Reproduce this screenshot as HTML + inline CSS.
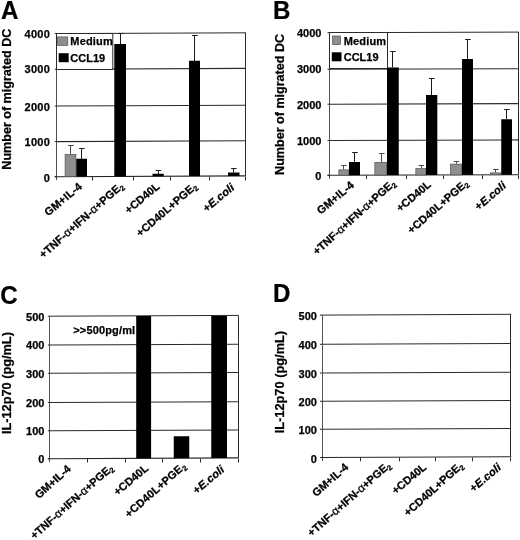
<!DOCTYPE html>
<html lang="en"><head><meta charset="utf-8"><title>Figure</title>
<style>
html,body{margin:0;padding:0;background:#fff;}
body{width:520px;height:540px;overflow:hidden;}
svg{display:block;}
svg text{font-family:"Liberation Sans", Arial, Helvetica, sans-serif;font-weight:bold;fill:#000;stroke:#000;stroke-width:0.25px;}
</style></head><body>
<svg width="520" height="540" viewBox="0 0 520 540">
<rect x="0" y="0" width="520" height="540" fill="#fff"/>
<text transform="translate(1.1 18.6) scale(0.925 1)" font-size="26.1">A</text>
<line x1="56.70" y1="141.60" x2="245.50" y2="140.80" stroke="#2b2b2b" stroke-width="1.1"/>
<line x1="56.70" y1="106.00" x2="245.50" y2="105.20" stroke="#2b2b2b" stroke-width="1.1"/>
<line x1="56.70" y1="69.20" x2="245.50" y2="68.40" stroke="#2b2b2b" stroke-width="1.1"/>
<line x1="56.70" y1="33.60" x2="246.00" y2="32.80" stroke="#2b2b2b" stroke-width="1"/>
<line x1="245.50" y1="32.80" x2="245.50" y2="175.90" stroke="#2b2b2b" stroke-width="1"/>
<line x1="56.50" y1="33.60" x2="56.50" y2="180.20" stroke="#505050" stroke-width="1"/>
<line x1="54.70" y1="176.70" x2="246.00" y2="175.90" stroke="#262626" stroke-width="1.1"/>
<line x1="54.70" y1="176.70" x2="56.70" y2="176.70" stroke="#2b2b2b" stroke-width="1"/>
<text x="50.1" y="181.5" font-size="11" text-anchor="end" letter-spacing="0.25">0</text>
<line x1="54.70" y1="141.60" x2="56.70" y2="141.60" stroke="#2b2b2b" stroke-width="1"/>
<text x="50.1" y="146.4" font-size="11" text-anchor="end" letter-spacing="0.25">1000</text>
<line x1="54.70" y1="106.00" x2="56.70" y2="106.00" stroke="#2b2b2b" stroke-width="1"/>
<text x="50.1" y="110.8" font-size="11" text-anchor="end" letter-spacing="0.25">2000</text>
<line x1="54.70" y1="69.20" x2="56.70" y2="69.20" stroke="#2b2b2b" stroke-width="1"/>
<text x="50.1" y="73.4" font-size="11" text-anchor="end" letter-spacing="0.25">3000</text>
<line x1="54.70" y1="33.60" x2="56.70" y2="33.60" stroke="#2b2b2b" stroke-width="1"/>
<text x="50.1" y="38.4" font-size="11" text-anchor="end" letter-spacing="0.25">4000</text>
<line x1="92.50" y1="176.70" x2="92.50" y2="180.50" stroke="#2b2b2b" stroke-width="1"/>
<line x1="133.50" y1="176.70" x2="133.50" y2="180.50" stroke="#2b2b2b" stroke-width="1"/>
<line x1="170.50" y1="176.70" x2="170.50" y2="180.50" stroke="#2b2b2b" stroke-width="1"/>
<line x1="209.50" y1="176.70" x2="209.50" y2="180.50" stroke="#2b2b2b" stroke-width="1"/>
<line x1="245.50" y1="176.70" x2="245.50" y2="180.50" stroke="#2b2b2b" stroke-width="1"/>
<text x="10.9" y="99.2" font-size="13.7" text-anchor="middle" textLength="141" lengthAdjust="spacingAndGlyphs" transform="rotate(-90 10.9 99.2)">Number of migrated DC</text>
<rect x="56.50" y="33.50" width="56.30" height="36.00" fill="#fff" stroke="#2b2b2b" stroke-width="1"/>
<rect x="57.50" y="36.90" width="10.30" height="8.60" fill="#8e8e8e" stroke="#555" stroke-width="0.7"/>
<rect x="58.70" y="53.20" width="10.00" height="9.00" fill="#000"/>
<text x="70.3" y="45.4" font-size="11" text-anchor="start" letter-spacing="0.18">Medium</text>
<text x="70.3" y="62.2" font-size="11" text-anchor="start">CCL19</text>
<rect x="65.10" y="154.35" width="10.80" height="22.29" fill="#8e8e8e" stroke="#555" stroke-width="0.7"/>
<rect x="76.25" y="158.75" width="10.75" height="17.84" fill="#000"/>
<rect x="114.30" y="44.00" width="11.70" height="132.43" fill="#000"/>
<rect x="152.50" y="173.75" width="11.25" height="2.52" fill="#000"/>
<rect x="189.00" y="60.75" width="11.00" height="115.37" fill="#000"/>
<rect x="228.00" y="172.50" width="11.50" height="3.45" fill="#000"/>
<line x1="70.50" y1="145.50" x2="70.50" y2="154.00" stroke="#4a4a4a" stroke-width="1"/>
<line x1="68.10" y1="145.50" x2="73.70" y2="145.50" stroke="#4a4a4a" stroke-width="1"/>
<line x1="81.50" y1="148.00" x2="81.50" y2="159.00" stroke="#1c1c1c" stroke-width="1"/>
<line x1="79.10" y1="148.50" x2="84.70" y2="148.50" stroke="#1c1c1c" stroke-width="1"/>
<line x1="120.50" y1="33.00" x2="120.50" y2="44.00" stroke="#1c1c1c" stroke-width="1"/>
<line x1="118.10" y1="33.50" x2="123.70" y2="33.50" stroke="#1c1c1c" stroke-width="1"/>
<line x1="158.50" y1="170.00" x2="158.50" y2="174.00" stroke="#1c1c1c" stroke-width="1"/>
<line x1="155.60" y1="170.50" x2="161.20" y2="170.50" stroke="#1c1c1c" stroke-width="1"/>
<line x1="194.50" y1="35.50" x2="194.50" y2="61.00" stroke="#1c1c1c" stroke-width="1"/>
<line x1="192.10" y1="35.50" x2="197.70" y2="35.50" stroke="#1c1c1c" stroke-width="1"/>
<line x1="233.50" y1="168.00" x2="233.50" y2="172.50" stroke="#1c1c1c" stroke-width="1"/>
<line x1="231.10" y1="168.50" x2="236.70" y2="168.50" stroke="#1c1c1c" stroke-width="1"/>
<text x="82.75" y="187.6" font-size="11" text-anchor="end" letter-spacing="0.2" style="stroke-width:0.3px" transform="rotate(-40 82.75 187.6)">GM+IL-4</text>
<text x="124.25" y="187.1" font-size="11" text-anchor="end" letter-spacing="0.1" style="stroke-width:0.3px" transform="rotate(-41.5 124.25 187.1)">+TNF-<tspan font-weight="normal" font-size="11.5">α</tspan>+IFN-<tspan font-weight="normal" font-size="11.5">α</tspan>+PGE<tspan font-size="7.5" dy="2.2">2</tspan></text>
<text x="160.38" y="187.6" font-size="11" text-anchor="end" style="stroke-width:0.3px" transform="rotate(-40 160.38 187.6)">+CD40L</text>
<text x="197.88" y="187.35" font-size="11" text-anchor="end" letter-spacing="0.1" style="stroke-width:0.3px" transform="rotate(-41 197.88 187.35)">+CD40L+PGE<tspan font-size="7.5" dy="2.2">2</tspan></text>
<text x="235.25" y="188.6" font-size="11" text-anchor="end" letter-spacing="0.2" style="stroke-width:0.3px" transform="rotate(-40 235.25 188.6)">+<tspan font-style="italic">E.coli</tspan></text>
<text transform="translate(272.9 19.1) scale(0.925 1)" font-size="26.1">B</text>
<line x1="329.50" y1="140.50" x2="518.20" y2="139.90" stroke="#2b2b2b" stroke-width="1.1"/>
<line x1="329.50" y1="104.20" x2="518.20" y2="103.60" stroke="#2b2b2b" stroke-width="1.1"/>
<line x1="329.50" y1="69.30" x2="518.20" y2="68.70" stroke="#2b2b2b" stroke-width="1.1"/>
<line x1="329.50" y1="32.70" x2="518.70" y2="32.10" stroke="#2b2b2b" stroke-width="1"/>
<line x1="518.50" y1="32.10" x2="518.50" y2="174.70" stroke="#2b2b2b" stroke-width="1"/>
<line x1="329.50" y1="32.70" x2="329.50" y2="178.80" stroke="#505050" stroke-width="1"/>
<line x1="327.50" y1="175.30" x2="518.70" y2="174.70" stroke="#262626" stroke-width="1.1"/>
<line x1="327.50" y1="175.30" x2="329.50" y2="175.30" stroke="#2b2b2b" stroke-width="1"/>
<text x="321.4" y="179.9" font-size="11" text-anchor="end">0</text>
<line x1="327.50" y1="140.50" x2="329.50" y2="140.50" stroke="#2b2b2b" stroke-width="1"/>
<text x="321.4" y="144.5" font-size="11" text-anchor="end">1000</text>
<line x1="327.50" y1="104.20" x2="329.50" y2="104.20" stroke="#2b2b2b" stroke-width="1"/>
<text x="321.4" y="109.3" font-size="11" text-anchor="end">2000</text>
<line x1="327.50" y1="69.30" x2="329.50" y2="69.30" stroke="#2b2b2b" stroke-width="1"/>
<text x="321.4" y="73.0" font-size="11" text-anchor="end">3000</text>
<line x1="327.50" y1="32.70" x2="329.50" y2="32.70" stroke="#2b2b2b" stroke-width="1"/>
<text x="321.4" y="37.2" font-size="11" text-anchor="end">4000</text>
<line x1="366.50" y1="175.30" x2="366.50" y2="179.10" stroke="#2b2b2b" stroke-width="1"/>
<line x1="406.50" y1="175.30" x2="406.50" y2="179.10" stroke="#2b2b2b" stroke-width="1"/>
<line x1="443.50" y1="175.30" x2="443.50" y2="179.10" stroke="#2b2b2b" stroke-width="1"/>
<line x1="482.50" y1="175.30" x2="482.50" y2="179.10" stroke="#2b2b2b" stroke-width="1"/>
<line x1="518.50" y1="175.30" x2="518.50" y2="179.10" stroke="#2b2b2b" stroke-width="1"/>
<text x="284.4" y="104.4" font-size="13.7" text-anchor="middle" textLength="141" lengthAdjust="spacingAndGlyphs" transform="rotate(-90 284.4 104.4)">Number of migrated DC</text>
<rect x="329.50" y="32.50" width="58.00" height="36.00" fill="#fff" stroke="#2b2b2b" stroke-width="1"/>
<rect x="332.60" y="36.00" width="8.00" height="8.60" fill="#8e8e8e" stroke="#555" stroke-width="0.7"/>
<rect x="331.80" y="52.30" width="9.70" height="9.00" fill="#000"/>
<text x="343.7" y="44.5" font-size="11" text-anchor="start" letter-spacing="0.18">Medium</text>
<text x="343.7" y="61.3" font-size="11" text-anchor="start">CCL19</text>
<rect x="338.85" y="169.85" width="9.80" height="5.40" fill="#8e8e8e" stroke="#555" stroke-width="0.7"/>
<rect x="349.00" y="162.00" width="11.00" height="13.22" fill="#000"/>
<rect x="374.85" y="162.35" width="11.80" height="12.79" fill="#8e8e8e" stroke="#555" stroke-width="0.7"/>
<rect x="387.00" y="67.50" width="11.75" height="107.60" fill="#000"/>
<rect x="415.85" y="168.60" width="10.05" height="6.41" fill="#8e8e8e" stroke="#555" stroke-width="0.7"/>
<rect x="426.00" y="95.00" width="11.30" height="79.98" fill="#000"/>
<rect x="450.35" y="164.10" width="11.30" height="10.80" fill="#8e8e8e" stroke="#555" stroke-width="0.7"/>
<rect x="462.00" y="59.00" width="11.00" height="115.86" fill="#000"/>
<rect x="490.35" y="172.85" width="10.55" height="1.92" fill="#8e8e8e" stroke="#555" stroke-width="0.7"/>
<rect x="501.25" y="119.25" width="10.75" height="55.49" fill="#000"/>
<line x1="343.50" y1="165.50" x2="343.50" y2="169.50" stroke="#4a4a4a" stroke-width="1"/>
<line x1="341.10" y1="165.50" x2="346.70" y2="165.50" stroke="#4a4a4a" stroke-width="1"/>
<line x1="354.50" y1="152.50" x2="354.50" y2="162.00" stroke="#1c1c1c" stroke-width="1"/>
<line x1="352.10" y1="152.50" x2="357.70" y2="152.50" stroke="#1c1c1c" stroke-width="1"/>
<line x1="381.50" y1="153.00" x2="381.50" y2="162.00" stroke="#4a4a4a" stroke-width="1"/>
<line x1="378.90" y1="153.50" x2="384.50" y2="153.50" stroke="#4a4a4a" stroke-width="1"/>
<line x1="392.50" y1="51.75" x2="392.50" y2="67.50" stroke="#1c1c1c" stroke-width="1"/>
<line x1="390.10" y1="51.50" x2="395.70" y2="51.50" stroke="#1c1c1c" stroke-width="1"/>
<line x1="421.50" y1="165.00" x2="421.50" y2="168.25" stroke="#4a4a4a" stroke-width="1"/>
<line x1="418.60" y1="165.50" x2="424.20" y2="165.50" stroke="#4a4a4a" stroke-width="1"/>
<line x1="431.50" y1="78.75" x2="431.50" y2="95.00" stroke="#1c1c1c" stroke-width="1"/>
<line x1="429.10" y1="78.50" x2="434.70" y2="78.50" stroke="#1c1c1c" stroke-width="1"/>
<line x1="456.50" y1="161.25" x2="456.50" y2="163.75" stroke="#4a4a4a" stroke-width="1"/>
<line x1="453.60" y1="161.50" x2="459.20" y2="161.50" stroke="#4a4a4a" stroke-width="1"/>
<line x1="467.50" y1="39.25" x2="467.50" y2="59.00" stroke="#1c1c1c" stroke-width="1"/>
<line x1="465.10" y1="39.50" x2="470.70" y2="39.50" stroke="#1c1c1c" stroke-width="1"/>
<line x1="495.50" y1="169.25" x2="495.50" y2="172.50" stroke="#4a4a4a" stroke-width="1"/>
<line x1="493.10" y1="169.50" x2="498.70" y2="169.50" stroke="#4a4a4a" stroke-width="1"/>
<line x1="506.50" y1="109.25" x2="506.50" y2="119.25" stroke="#1c1c1c" stroke-width="1"/>
<line x1="504.10" y1="109.50" x2="509.70" y2="109.50" stroke="#1c1c1c" stroke-width="1"/>
<text x="354.82" y="186.25" font-size="11" text-anchor="end" letter-spacing="0.1" style="stroke-width:0.3px" transform="rotate(-40 354.82 186.25)">GM+IL-4</text>
<text x="396.12" y="184.25" font-size="11" text-anchor="end" style="stroke-width:0.3px" transform="rotate(-42 396.12 184.25)">+TNF-<tspan font-weight="normal" font-size="11.5">α</tspan>+IFN-<tspan font-weight="normal" font-size="11.5">α</tspan>+PGE<tspan font-size="7.5" dy="2.2">2</tspan></text>
<text x="431.75" y="185.75" font-size="11" text-anchor="end" style="stroke-width:0.3px" transform="rotate(-40 431.75 185.75)">+CD40L</text>
<text x="469.12" y="184.25" font-size="11" text-anchor="end" letter-spacing="0.1" style="stroke-width:0.3px" transform="rotate(-41 469.12 184.25)">+CD40L+PGE<tspan font-size="7.5" dy="2.2">2</tspan></text>
<text x="507.1" y="186.75" font-size="11" text-anchor="end" letter-spacing="0.2" style="stroke-width:0.3px" transform="rotate(-40 507.1 186.75)">+<tspan font-style="italic">E.coli</tspan></text>
<text transform="translate(0.3 303.6) scale(0.925 1)" font-size="26.1">C</text>
<line x1="49.90" y1="430.80" x2="238.00" y2="430.00" stroke="#2b2b2b" stroke-width="1.1"/>
<line x1="49.90" y1="402.50" x2="238.00" y2="401.70" stroke="#2b2b2b" stroke-width="1.1"/>
<line x1="49.90" y1="373.30" x2="238.00" y2="372.50" stroke="#2b2b2b" stroke-width="1.1"/>
<line x1="49.90" y1="345.00" x2="238.00" y2="344.20" stroke="#2b2b2b" stroke-width="1.1"/>
<line x1="49.90" y1="316.20" x2="238.50" y2="315.40" stroke="#2b2b2b" stroke-width="1"/>
<line x1="238.50" y1="315.40" x2="238.50" y2="457.90" stroke="#2b2b2b" stroke-width="1"/>
<line x1="49.50" y1="316.20" x2="49.50" y2="462.20" stroke="#505050" stroke-width="1"/>
<line x1="47.90" y1="458.70" x2="238.50" y2="457.90" stroke="#262626" stroke-width="1.1"/>
<line x1="47.90" y1="458.70" x2="49.90" y2="458.70" stroke="#2b2b2b" stroke-width="1"/>
<text x="44.4" y="463.4" font-size="11" text-anchor="end">0</text>
<line x1="47.90" y1="430.80" x2="49.90" y2="430.80" stroke="#2b2b2b" stroke-width="1"/>
<text x="44.4" y="434.6" font-size="11" text-anchor="end">100</text>
<line x1="47.90" y1="402.50" x2="49.90" y2="402.50" stroke="#2b2b2b" stroke-width="1"/>
<text x="44.4" y="406.6" font-size="11" text-anchor="end">200</text>
<line x1="47.90" y1="373.30" x2="49.90" y2="373.30" stroke="#2b2b2b" stroke-width="1"/>
<text x="44.4" y="377.5" font-size="11" text-anchor="end">300</text>
<line x1="47.90" y1="345.00" x2="49.90" y2="345.00" stroke="#2b2b2b" stroke-width="1"/>
<text x="44.4" y="349.2" font-size="11" text-anchor="end">400</text>
<line x1="47.90" y1="316.20" x2="49.90" y2="316.20" stroke="#2b2b2b" stroke-width="1"/>
<text x="44.4" y="320.9" font-size="11" text-anchor="end">500</text>
<line x1="87.50" y1="458.70" x2="87.50" y2="462.50" stroke="#2b2b2b" stroke-width="1"/>
<line x1="125.50" y1="458.70" x2="125.50" y2="462.50" stroke="#2b2b2b" stroke-width="1"/>
<line x1="162.50" y1="458.70" x2="162.50" y2="462.50" stroke="#2b2b2b" stroke-width="1"/>
<line x1="200.50" y1="458.70" x2="200.50" y2="462.50" stroke="#2b2b2b" stroke-width="1"/>
<line x1="238.50" y1="458.70" x2="238.50" y2="462.50" stroke="#2b2b2b" stroke-width="1"/>
<text x="11.4" y="383.1" font-size="13.7" text-anchor="middle" textLength="102" lengthAdjust="spacingAndGlyphs" transform="rotate(-90 11.4 383.1)">IL-12p70 (pg/mL)</text>
<rect x="136.20" y="316.00" width="14.90" height="142.30" fill="#000"/>
<rect x="173.75" y="436.25" width="15.50" height="21.89" fill="#000"/>
<rect x="211.25" y="316.00" width="15.75" height="141.98" fill="#000"/>
<text x="73.25" y="334" font-size="11" text-anchor="start" letter-spacing="0.15">&gt;&gt;500pg/ml</text>
<text x="71.45" y="470.0" font-size="11" text-anchor="end" style="stroke-width:0.3px" transform="rotate(-42 71.45 470.0)">GM+IL-4</text>
<text x="114.0" y="469.0" font-size="11" text-anchor="end" style="stroke-width:0.3px" transform="rotate(-41.6 114.0 469.0)">+TNF-<tspan font-weight="normal" font-size="11.5">α</tspan>+IFN-<tspan font-weight="normal" font-size="11.5">α</tspan>+PGE<tspan font-size="7.5" dy="2.2">2</tspan></text>
<text x="149.05" y="469.5" font-size="11" text-anchor="end" style="stroke-width:0.3px" transform="rotate(-40 149.05 469.5)">+CD40L</text>
<text x="186.8" y="467.0" font-size="11" text-anchor="end" letter-spacing="0.2" style="stroke-width:0.3px" transform="rotate(-41.5 186.8 467.0)">+CD40L+PGE<tspan font-size="7.5" dy="2.2">2</tspan></text>
<text x="225.25" y="470.6" font-size="11" text-anchor="end" letter-spacing="0.2" style="stroke-width:0.3px" transform="rotate(-40 225.25 470.6)">+<tspan font-style="italic">E.coli</tspan></text>
<text transform="translate(273.1 302) scale(0.925 1)" font-size="26.1">D</text>
<line x1="322.00" y1="429.30" x2="510.75" y2="428.50" stroke="#2b2b2b" stroke-width="1.1"/>
<line x1="322.00" y1="401.30" x2="510.75" y2="400.50" stroke="#2b2b2b" stroke-width="1.1"/>
<line x1="322.00" y1="373.00" x2="510.75" y2="372.20" stroke="#2b2b2b" stroke-width="1.1"/>
<line x1="322.00" y1="344.30" x2="510.75" y2="343.50" stroke="#2b2b2b" stroke-width="1.1"/>
<line x1="322.00" y1="315.10" x2="511.25" y2="314.30" stroke="#2b2b2b" stroke-width="1"/>
<line x1="510.50" y1="314.30" x2="510.50" y2="456.70" stroke="#2b2b2b" stroke-width="1"/>
<line x1="322.50" y1="315.10" x2="322.50" y2="461.00" stroke="#505050" stroke-width="1"/>
<line x1="320.00" y1="457.50" x2="511.25" y2="456.70" stroke="#262626" stroke-width="1.1"/>
<line x1="320.00" y1="457.50" x2="322.00" y2="457.50" stroke="#2b2b2b" stroke-width="1"/>
<text x="316.9" y="462.5" font-size="11" text-anchor="end">0</text>
<line x1="320.00" y1="429.30" x2="322.00" y2="429.30" stroke="#2b2b2b" stroke-width="1"/>
<text x="316.9" y="434.3" font-size="11" text-anchor="end">100</text>
<line x1="320.00" y1="401.30" x2="322.00" y2="401.30" stroke="#2b2b2b" stroke-width="1"/>
<text x="316.9" y="406.3" font-size="11" text-anchor="end">200</text>
<line x1="320.00" y1="373.00" x2="322.00" y2="373.00" stroke="#2b2b2b" stroke-width="1"/>
<text x="316.9" y="378.0" font-size="11" text-anchor="end">300</text>
<line x1="320.00" y1="344.30" x2="322.00" y2="344.30" stroke="#2b2b2b" stroke-width="1"/>
<text x="316.9" y="349.3" font-size="11" text-anchor="end">400</text>
<line x1="320.00" y1="315.10" x2="322.00" y2="315.10" stroke="#2b2b2b" stroke-width="1"/>
<text x="316.9" y="320.1" font-size="11" text-anchor="end">500</text>
<line x1="360.50" y1="457.50" x2="360.50" y2="461.30" stroke="#2b2b2b" stroke-width="1"/>
<line x1="399.50" y1="457.50" x2="399.50" y2="461.30" stroke="#2b2b2b" stroke-width="1"/>
<line x1="435.50" y1="457.50" x2="435.50" y2="461.30" stroke="#2b2b2b" stroke-width="1"/>
<line x1="472.50" y1="457.50" x2="472.50" y2="461.30" stroke="#2b2b2b" stroke-width="1"/>
<line x1="510.50" y1="457.50" x2="510.50" y2="461.30" stroke="#2b2b2b" stroke-width="1"/>
<text x="284.1" y="382.1" font-size="13.7" text-anchor="middle" textLength="102.5" lengthAdjust="spacingAndGlyphs" transform="rotate(-90 284.1 382.1)">IL-12p70 (pg/mL)</text>
<text x="349.0" y="468.2" font-size="11" text-anchor="end" style="stroke-width:0.3px" transform="rotate(-41.5 349.0 468.2)">GM+IL-4</text>
<text x="391.43" y="466.5" font-size="11" text-anchor="end" style="stroke-width:0.3px" transform="rotate(-41.4 391.43 466.5)">+TNF-<tspan font-weight="normal" font-size="11.5">α</tspan>+IFN-<tspan font-weight="normal" font-size="11.5">α</tspan>+PGE<tspan font-size="7.5" dy="2.2">2</tspan></text>
<text x="427.27" y="468.3" font-size="11" text-anchor="end" style="stroke-width:0.3px" transform="rotate(-40 427.27 468.3)">+CD40L</text>
<text x="463.9" y="466.5" font-size="11" text-anchor="end" style="stroke-width:0.3px" transform="rotate(-42 463.9 466.5)">+CD40L+PGE<tspan font-size="7.5" dy="2.2">2</tspan></text>
<text x="501.93" y="468.5" font-size="11" text-anchor="end" letter-spacing="0.2" style="stroke-width:0.3px" transform="rotate(-40 501.93 468.5)">+<tspan font-style="italic">E.coli</tspan></text>
</svg>
</body></html>
